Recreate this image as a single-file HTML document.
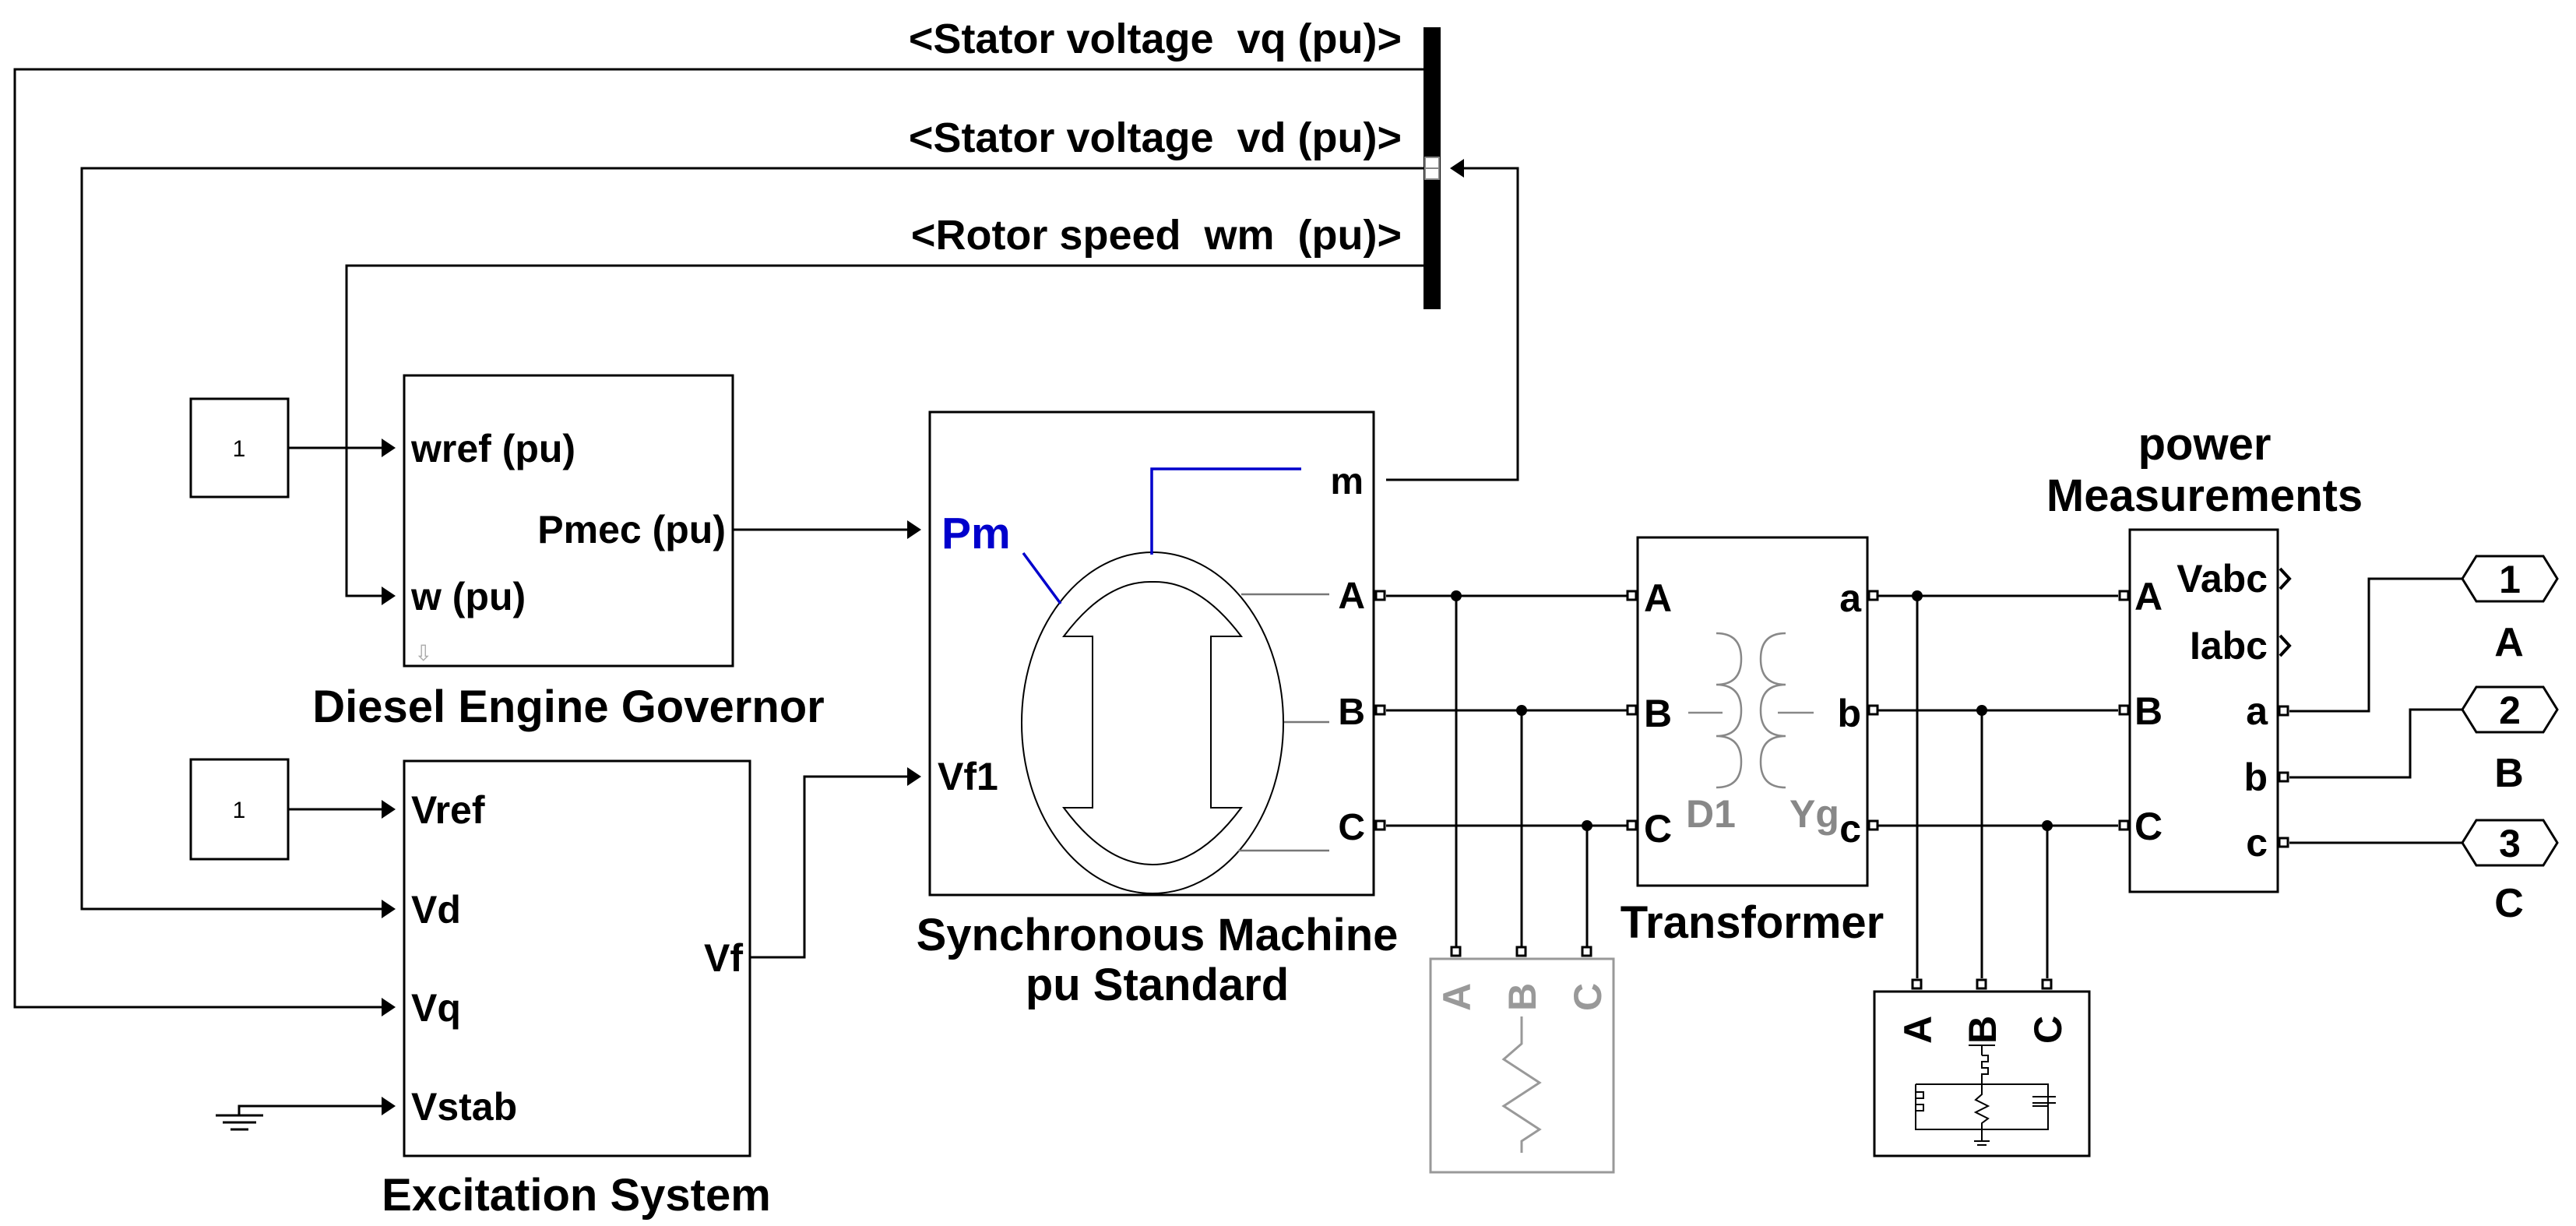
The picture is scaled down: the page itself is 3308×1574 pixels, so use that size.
<!DOCTYPE html>
<html><head><meta charset="utf-8"><style>
html,body{margin:0;padding:0;background:#fff}
svg{display:block}
text{font-family:"Liberation Sans",Arial,sans-serif;font-weight:bold}
.pre{white-space:pre}
</style></head><body>
<svg width="3308" height="1574" viewBox="0 0 3308 1574" xmlns="http://www.w3.org/2000/svg">
<g fill="none" stroke="#000" stroke-width="3">
<polyline points="1828,89 19,89 19,1293 490,1293"/>
<polyline points="1828,216 105,216 105,1167 490,1167"/>
<polyline points="1828,341 445,341 445,765 490,765"/>
<line x1="370" y1="575" x2="490" y2="575"/>
<polyline points="1780,616 1949,616 1949,216 1880,216"/>
<line x1="941" y1="680" x2="1165" y2="680"/>
<line x1="370" y1="1039" x2="490" y2="1039"/>
<polyline points="963,1229 1033,1229 1033,997 1165,997"/>
<polyline points="307,1432 307,1420 490,1420"/>
<line x1="277" y1="1432" x2="338" y2="1432"/>
<line x1="286" y1="1441" x2="329" y2="1441"/>
<line x1="296" y1="1450" x2="319" y2="1450"/>
<line x1="1780" y1="765" x2="2090" y2="765"/>
<line x1="1780" y1="912" x2="2090" y2="912"/>
<line x1="1780" y1="1060" x2="2090" y2="1060"/>
<line x1="1870" y1="765" x2="1870" y2="1215"/>
<line x1="1954" y1="912" x2="1954" y2="1215"/>
<line x1="2038" y1="1060" x2="2038" y2="1215"/>
<line x1="2412" y1="765" x2="2720" y2="765"/>
<line x1="2412" y1="912" x2="2720" y2="912"/>
<line x1="2412" y1="1060" x2="2720" y2="1060"/>
<line x1="2462" y1="765" x2="2462" y2="1256"/>
<line x1="2545" y1="912" x2="2545" y2="1256"/>
<line x1="2629" y1="1060" x2="2629" y2="1256"/>
<polyline points="2940,913 3042,913 3042,743 3162,743"/>
<polyline points="2940,998 3095,998 3095,911 3162,911"/>
<line x1="2940" y1="1082" x2="3162" y2="1082"/>
</g>
<g fill="#000">
<polygon points="490,563 490,587 508,575"/>
<polygon points="490,753 490,777 508,765"/>
<polygon points="1165,668 1165,692 1183,680"/>
<polygon points="1165,985 1165,1009 1183,997"/>
<polygon points="490,1027 490,1051 508,1039"/>
<polygon points="490,1155 490,1179 508,1167"/>
<polygon points="490,1281 490,1305 508,1293"/>
<polygon points="490,1408 490,1432 508,1420"/>
<polygon points="1880,204 1880,228 1862,216"/>
<circle cx="1870" cy="765" r="7"/><circle cx="1954" cy="912" r="7"/><circle cx="2038" cy="1060" r="7"/>
<circle cx="2462" cy="765" r="7"/><circle cx="2545" cy="912" r="7"/><circle cx="2629" cy="1060" r="7"/>
</g>
<rect x="1828" y="35" width="22" height="362" fill="#000"/>
<rect x="1830" y="202" width="18" height="28" fill="#fff" stroke="#888" stroke-width="2"/>
<line x1="1830" y1="216" x2="1848" y2="216" stroke="#888" stroke-width="2"/>
<g font-size="54" text-anchor="end">
<text class="pre" x="1800" y="68">&lt;Stator voltage  vq (pu)&gt;</text>
<text class="pre" x="1800" y="195">&lt;Stator voltage  vd (pu)&gt;</text>
<text class="pre" x="1800" y="320">&lt;Rotor speed  wm  (pu)&gt;</text>
</g>
<g fill="#fff" stroke="#000" stroke-width="3">
<rect x="245" y="512" width="125" height="126"/>
<rect x="519" y="482" width="422" height="373"/>
<rect x="245" y="975" width="125" height="128"/>
<rect x="519" y="977" width="444" height="507"/>
<rect x="1194" y="529" width="570" height="620"/>
<rect x="2103" y="690" width="295" height="447"/>
<rect x="2735" y="680" width="190" height="465"/>
<rect x="2407" y="1273" width="276" height="211"/>
<rect x="1837" y="1231" width="235" height="274" stroke="#999"/>
</g>
<g font-size="30" text-anchor="middle"><text x="307" y="586" style="font-weight:normal">1</text><text x="307" y="1050" style="font-weight:normal">1</text></g>
<text x="532" y="848" font-size="28" fill="#aaa" style="font-weight:normal">⇩</text>
<g font-size="50">
<text x="528" y="593">wref (pu)</text>
<text x="528" y="783">w (pu)</text>
<text x="932" y="697" text-anchor="end">Pmec (pu)</text>
<text x="528" y="1057">Vref</text>
<text x="528" y="1185">Vd</text>
<text x="528" y="1311">Vq</text>
<text x="528" y="1438">Vstab</text>
<text x="954" y="1247" text-anchor="end">Vf</text>
<text x="1204" y="1014">Vf1</text>
</g>
<g font-size="48">
<text x="1751" y="634" text-anchor="end">m</text>
<text x="1753" y="781" text-anchor="end">A</text>
<text x="1753" y="930" text-anchor="end">B</text>
<text x="1753" y="1078" text-anchor="end">C</text>
</g>
<text x="1209" y="704" font-size="57" fill="#0000cc">Pm</text>
<g font-size="58" text-anchor="middle">
<text x="730" y="927">Diesel Engine Governor</text>
<text x="740" y="1554">Excitation System</text>
<text x="1486" y="1220">Synchronous Machine</text>
<text x="1486" y="1284">pu Standard</text>
<text x="2250" y="1204">Transformer</text>
<text x="2831" y="590">power</text>
<text x="2831" y="656">Measurements</text>
</g>
<g font-size="52" text-anchor="middle">
<text x="3222" y="842">A</text>
<text x="3222" y="1010">B</text>
<text x="3222" y="1177">C</text>
</g>
<g fill="none" stroke="#000" stroke-width="2">
<ellipse cx="1480" cy="928" rx="168" ry="219"/>
<path d="M1366,817 Q1420,745 1480,747 Q1540,745 1594,817 L1555,817 L1555,1037 L1594,1037 Q1540,1110 1480,1110 Q1420,1110 1366,1037 L1403,1037 L1403,817 Z"/>
</g>
<g stroke="#777" stroke-width="2.5">
<line x1="1594" y1="763" x2="1707" y2="763"/>
<line x1="1649" y1="927" x2="1707" y2="927"/>
<line x1="1590" y1="1092" x2="1707" y2="1092"/>
</g>
<g stroke="#0000cc" stroke-width="3.5" fill="none">
<polyline points="1479,712 1479,602 1671,602"/>
<line x1="1314" y1="710" x2="1362" y2="775"/>
</g>
<g fill="#fff" stroke="#000" stroke-width="3">
<rect x="1767" y="759" width="11" height="11"/><rect x="1767" y="906" width="11" height="11"/><rect x="1767" y="1054" width="11" height="11"/>
<rect x="2090" y="759" width="11" height="11"/><rect x="2090" y="906" width="11" height="11"/><rect x="2090" y="1054" width="11" height="11"/>
<rect x="2400" y="759" width="11" height="11"/><rect x="2400" y="906" width="11" height="11"/><rect x="2400" y="1054" width="11" height="11"/>
<rect x="2722" y="759" width="11" height="11"/><rect x="2722" y="906" width="11" height="11"/><rect x="2722" y="1054" width="11" height="11"/>
<rect x="2927" y="907" width="11" height="11"/><rect x="2927" y="992" width="11" height="11"/><rect x="2927" y="1076" width="11" height="11"/>
<rect x="1864" y="1216" width="11" height="11"/><rect x="1948" y="1216" width="11" height="11"/><rect x="2032" y="1216" width="11" height="11"/>
<rect x="2456" y="1258" width="11" height="11"/><rect x="2539" y="1258" width="11" height="11"/><rect x="2623" y="1258" width="11" height="11"/>
</g>
<g font-size="50">
<text x="2111" y="785">A</text><text x="2111" y="933">B</text><text x="2111" y="1081">C</text>
<text x="2390" y="785" text-anchor="end">a</text><text x="2390" y="933" text-anchor="end">b</text>
<text x="2390" y="1081" text-anchor="end">c</text>
<text x="2165" y="1062" fill="#888">D1</text><text x="2298" y="1062" fill="#888">Yg</text>
</g>
<g fill="none" stroke="#888" stroke-width="2.5">
<path d="M2204,813 q32,0 32,33 t-32,33 q32,0 32,33 t-32,33 q32,0 32,33 t-32,33"/>
<path d="M2293,813 q-32,0 -32,33 t32,33 q-32,0 -32,33 t32,33 q-32,0 -32,33 t32,33"/>
<line x1="2168" y1="915" x2="2212" y2="915"/><line x1="2283" y1="915" x2="2329" y2="915"/>
</g>
<g font-size="50">
<text x="2741" y="783">A</text><text x="2741" y="930">B</text><text x="2741" y="1078">C</text>
<text x="2912" y="760" text-anchor="end">Vabc</text><text x="2912" y="846" text-anchor="end">Iabc</text>
<text x="2912" y="930" text-anchor="end">a</text><text x="2912" y="1015" text-anchor="end">b</text><text x="2912" y="1099" text-anchor="end">c</text>
</g>
<g fill="none" stroke="#000" stroke-width="4">
<polyline points="2928,730 2940,743 2928,756"/><polyline points="2928,816 2940,829 2928,842"/>
</g>
<g fill="#fff" stroke="#000" stroke-width="3">
<polygon points="3162,743 3180,714 3266,714 3284,743 3266,772 3180,772"/>
<polygon points="3162,911 3180,882 3266,882 3284,911 3266,940 3180,940"/>
<polygon points="3162,1082 3180,1053 3266,1053 3284,1082 3266,1111 3180,1111"/>
</g>
<g font-size="50" text-anchor="middle">
<text x="3223" y="761">1</text><text x="3223" y="929">2</text><text x="3223" y="1100">3</text>
</g>
<g font-size="50" fill="#999">
<text transform="translate(1888,1298) rotate(-90)">A</text>
<text transform="translate(1972,1298) rotate(-90)">B</text>
<text transform="translate(2056,1298) rotate(-90)">C</text>
</g>
<polyline fill="none" stroke="#999" stroke-width="3" points="1954,1305 1954,1340 1931,1360 1977,1390 1931,1420 1977,1450 1954,1465 1954,1480"/>
<g font-size="50">
<text transform="translate(2480,1340) rotate(-90)">A</text>
<text transform="translate(2563,1340) rotate(-90)">B</text>
<text transform="translate(2647,1340) rotate(-90)">C</text>
</g>
<g fill="none" stroke="#000" stroke-width="2">
<line x1="2528" y1="1342" x2="2562" y2="1342"/>
<line x1="2545" y1="1342" x2="2545" y2="1355"/>
<path d="M2545,1355 h8 v8 h-8 v8 h8 v8 h-8 v12"/>
<polyline points="2460,1392 2630,1392 2630,1450 2460,1450 2460,1392"/>
<path d="M2460,1402 h10 v8 h-10 v8 h10 v8 h-10"/>
<polyline points="2545,1392 2545,1405 2537,1412 2553,1420 2537,1428 2553,1436 2545,1442 2545,1465"/>
<line x1="2630" y1="1420" x2="2610" y2="1420"/>
<line x1="2610" y1="1408" x2="2640" y2="1408"/><line x1="2610" y1="1416" x2="2640" y2="1416"/>
<line x1="2535" y1="1465" x2="2555" y2="1465"/><line x1="2539" y1="1470" x2="2551" y2="1470"/>
</g>
</svg>
</body></html>
